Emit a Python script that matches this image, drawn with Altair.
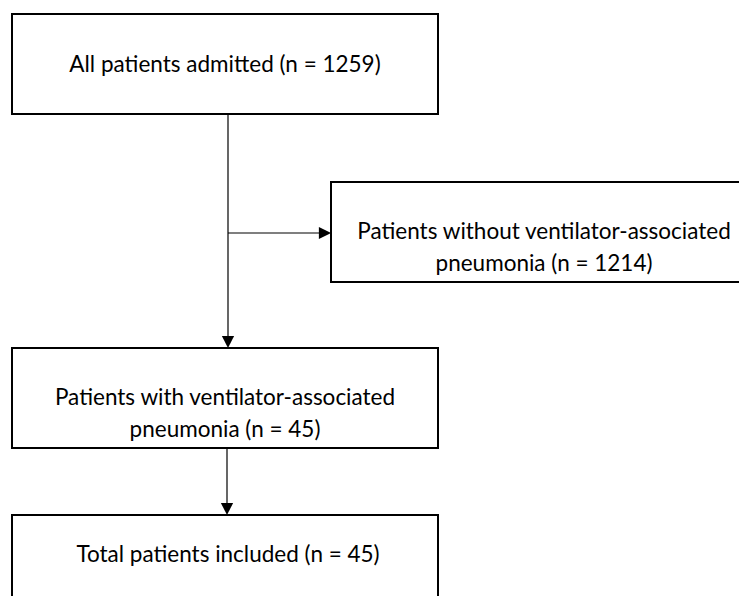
import altair as alt
import pandas as pd

# Box texts and layout (page pixel coordinates)
box_labels = [
    "All patients admitted (n = 1259)",
    "Patients without ventilator-associated\npneumonia (n = 1214)",
    "Patients with ventilator-associated\npneumonia (n = 45)",
    "Total patients included (n = 45)",
]
box_left = [12, 331, 12, 12]
box_right = [438, 757, 438, 438]
box_top = [14, 182, 348, 515]
box_bottom = [114, 282, 448, 615]
label_x = [225, 544, 225, 228]
label_y = [65, 232, 398, 555]

# Connector lines
line_x = [228, 228, 227]
line_y = [114, 233, 448]
line_x2 = [228, 325, 227]
line_y2 = [342, 233, 509]

# Arrow heads
head_x = [228, 325, 227]
head_y = [342, 233, 509]
head_dir = ["down", "right", "down"]

boxes = pd.DataFrame({
    "label": box_labels, "x0": box_left, "x1": box_right,
    "y0": box_top, "y1": box_bottom, "lx": label_x, "ly": label_y,
})
lines = pd.DataFrame({"x": line_x, "y": line_y, "x2": line_x2, "y2": line_y2})
heads = pd.DataFrame({"x": head_x, "y": head_y, "dir": head_dir})

W, H = 731, 588
xs = alt.Scale(domain=[8, 8 + W], range=[0, W], zero=False, nice=False)
ys = alt.Scale(domain=[8, 8 + H], reverse=True, zero=False, nice=False)

rects = alt.Chart(boxes).mark_rect(
    fill="white", stroke="black", strokeWidth=2, clip=True
).encode(
    x=alt.X("x0:Q", scale=xs, axis=None),
    x2="x1:Q",
    y=alt.Y("y0:Q", scale=ys, axis=None),
    y2="y1:Q",
)

texts = alt.Chart(boxes).mark_text(
    font="Lato", fontSize=22.5, lineBreak="\n", lineHeight=32,
    align="center", baseline="middle", color="black"
).encode(
    x=alt.X("lx:Q", scale=xs, axis=None),
    y=alt.Y("ly:Q", scale=ys, axis=None),
    text="label:N",
)

rules = alt.Chart(lines).mark_rule(color="black", strokeWidth=1.2).encode(
    x=alt.X("x:Q", scale=xs, axis=None),
    x2="x2:Q",
    y=alt.Y("y:Q", scale=ys, axis=None),
    y2="y2:Q",
)

arrows = alt.Chart(heads).mark_point(
    filled=True, opacity=1, color="black", strokeWidth=0, size=150
).encode(
    x=alt.X("x:Q", scale=xs, axis=None),
    y=alt.Y("y:Q", scale=ys, axis=None),
    shape=alt.Shape(
        "dir:N",
        scale=alt.Scale(domain=["down", "right"],
                        range=["M-1,-1L1,-1L0,1Z", "M-1,-1L-1,1L1,0Z"]),
        legend=None,
    ),
)

chart = alt.layer(rects, rules, arrows, texts).properties(
    width=W, height=H, padding=0, background="white"
).configure_view(stroke=None)

chart.save("out.html", embed_options={"renderer": "svg", "actions": False})
